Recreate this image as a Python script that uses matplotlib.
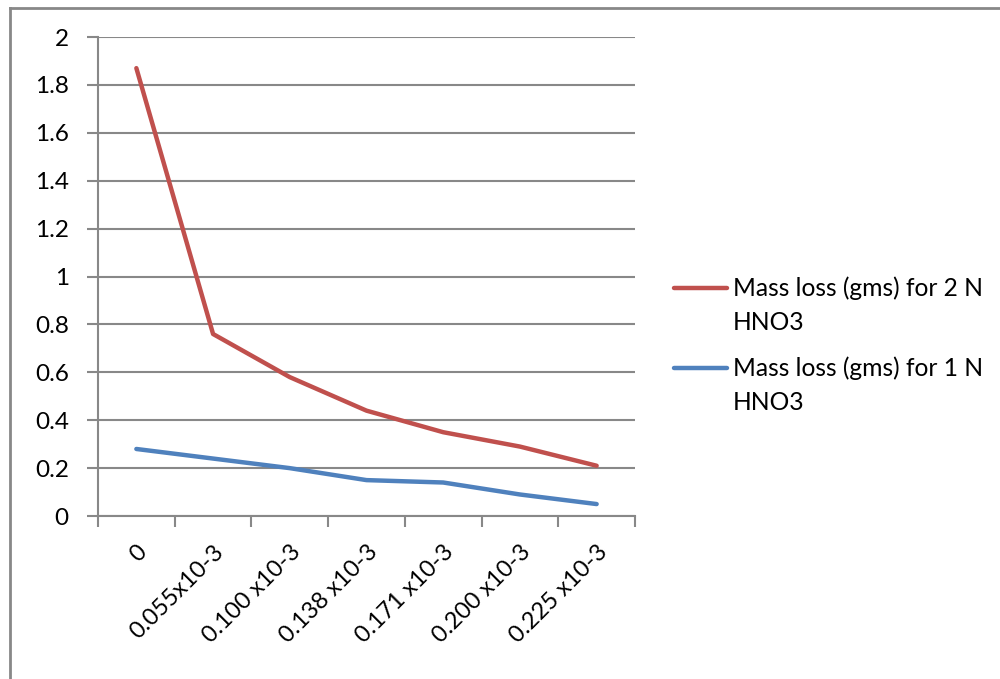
import matplotlib.pyplot as plt
from matplotlib.lines import Line2D

plt.rcParams['font.family'] = ['Lato', 'DejaVu Sans']

conc = ['0', '0.055x10-3', '0.100 x10-3', '0.138 x10-3', '0.171 x10-3', '0.200 x10-3', '0.225 x10-3']
loss_2n = [1.87, 0.76, 0.58, 0.44, 0.35, 0.29, 0.21]
loss_1n = [0.28, 0.24, 0.20, 0.15, 0.14, 0.09, 0.05]
series = [('Mass loss (gms) for 2 N', 'HNO3', loss_2n, '#C0504D'),
          ('Mass loss (gms) for 1 N', 'HNO3', loss_1n, '#4F81BD')]

W, H = 1000, 679
fig = plt.figure(figsize=(W / 100, H / 100), dpi=100)
ax = fig.add_axes([0.098, 0.24, 0.537, 0.7055])

x = range(len(conc))
for l1, l2, vals, col in series:
    ax.plot(x, vals, color=col, lw=3.2, solid_capstyle='round')

ax.set_xlim(-0.5, len(conc) - 0.5)
ax.set_ylim(0, 2)
ax.set_yticks([0, 0.2, 0.4, 0.6, 0.8, 1, 1.2, 1.4, 1.6, 1.8, 2])
ax.set_yticklabels(['0', '0.2', '0.4', '0.6', '0.8', '1', '1.2', '1.4', '1.6', '1.8', '2'])
ax.yaxis.grid(True, color='#888888', lw=1.5)
ax.set_axisbelow(True)

# category boundary ticks
ax.set_xticks([i - 0.5 for i in range(len(conc) + 1)])
ax.set_xticklabels([])
ax.set_xticks(list(x), minor=True)
ax.set_xticklabels(conc, minor=True, rotation=45, ha='right', va='top',
                   rotation_mode='anchor', fontsize=17)
ax.tick_params(axis='x', which='minor', length=0, pad=18)
ax.tick_params(axis='x', which='major', length=8, width=1.5, color='#888888')
ax.tick_params(axis='y', length=8, width=1.5, color='#888888', labelsize=17.5, pad=13)

for s in ['top', 'right']:
    ax.spines[s].set_visible(False)
for s in ['left', 'bottom']:
    ax.spines[s].set_color('#888888')
    ax.spines[s].set_linewidth(1.5)

# legend, Excel style: handle next to the first line of a wrapped label
for i, (l1, l2, vals, col) in enumerate(series):
    y0 = 288 + i * 80
    fig.add_artist(Line2D([674 / W, 727 / W], [1 - y0 / H, 1 - y0 / H], transform=fig.transFigure,
                          color=col, lw=3.2, solid_capstyle='round'))
    fig.text(733 / W, 1 - y0 / H, l1, fontsize=17.7, va='center')
    fig.text(733 / W, 1 - (y0 + 34) / H, l2, fontsize=17.7, va='center')

# outer chart frame
fig.add_artist(Line2D([0.010, 0.010], [0, 1 - 8 / H], transform=fig.transFigure,
                      color='#888888', lw=2))
fig.add_artist(Line2D([0.010, 1], [1 - 8 / H, 1 - 8 / H], transform=fig.transFigure,
                      color='#888888', lw=2))

fig.savefig('out.png', dpi=100)
